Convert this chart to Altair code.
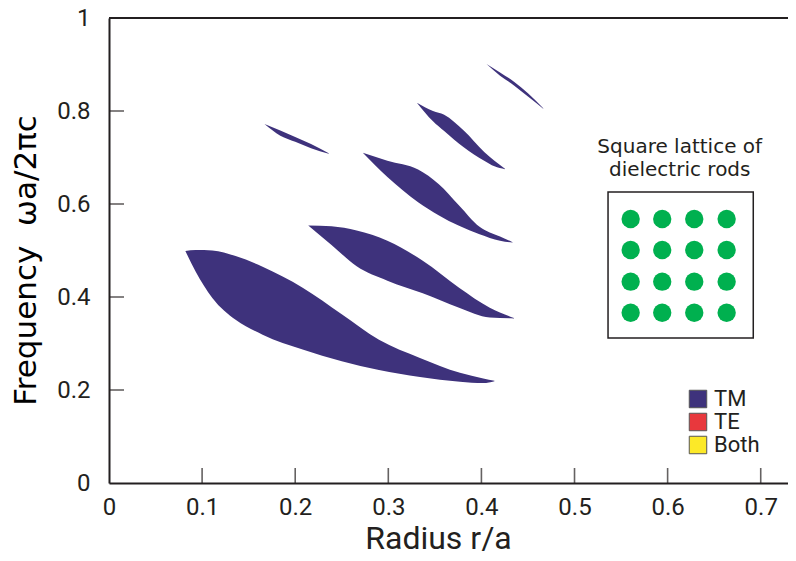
import altair as alt
import pandas as pd

# ---- data ----
# Band-gap regions (TM): x = r/a, lower and upper gap edges (omega a / 2 pi c)
g1_x  = [0.082, 0.093, 0.111, 0.136, 0.165, 0.208, 0.250, 0.290, 0.334, 0.377, 0.402, 0.414]
g1_lo = [0.499, 0.455, 0.398, 0.351, 0.319, 0.287, 0.262, 0.243, 0.228, 0.218, 0.215, 0.219]
g1_hi = [0.499, 0.501, 0.500, 0.488, 0.465, 0.420, 0.363, 0.308, 0.269, 0.237, 0.225, 0.220]

g2_x  = [0.214, 0.239, 0.266, 0.299, 0.337, 0.376, 0.409, 0.435]
g2_lo = [0.554, 0.512, 0.466, 0.435, 0.408, 0.377, 0.356, 0.354]
g2_hi = [0.554, 0.552, 0.543, 0.521, 0.478, 0.420, 0.377, 0.355]

g3_x  = [0.2726, 0.299, 0.332, 0.354, 0.376, 0.398, 0.420, 0.4335]
g3_lo = [0.710, 0.658, 0.604, 0.576, 0.553, 0.535, 0.521, 0.517]
g3_hi = [0.710, 0.693, 0.674, 0.643, 0.597, 0.551, 0.530, 0.518]

g4_x  = [0.167, 0.184, 0.200, 0.217, 0.236]
g4_lo = [0.772, 0.747, 0.734, 0.720, 0.708]
g4_hi = [0.772, 0.758, 0.744, 0.729, 0.709]

g5_x  = [0.3307, 0.348, 0.360, 0.381, 0.403, 0.414, 0.4253]
g5_lo = [0.818, 0.778, 0.757, 0.722, 0.693, 0.681, 0.675]
g5_hi = [0.818, 0.800, 0.792, 0.758, 0.712, 0.693, 0.676]

g6_x  = [0.4055, 0.420, 0.435, 0.450, 0.4664]
g6_lo = [0.901, 0.876, 0.855, 0.831, 0.805]
g6_hi = [0.901, 0.883, 0.863, 0.838, 0.806]

pol_names = ["TM", "TE", "Both"]
pol_colors = ["#3e327c", "#e8383d", "#fce928"]

x_tick_values = [0, 0.1, 0.2, 0.3, 0.4, 0.5, 0.6, 0.7]
y_tick_values = [0, 0.2, 0.4, 0.6, 0.8, 1]
x_inner_ticks = [0.1, 0.2, 0.3, 0.4, 0.5, 0.6, 0.7]
y_inner_ticks = [0.2, 0.4, 0.6, 0.8]

# inset: square lattice of rods (drawn in data coordinates)
lattice_x = [0.5603, 0.5942, 0.6286, 0.6634]
lattice_y = [0.5677, 0.5011, 0.4329, 0.3662]
inset_box = [0.536, 0.692, 0.312, 0.626]  # x0, x1, y0, y1
inset_title = ["Square lattice of", "dielectric rods"]
inset_title_pos = [0.613, 0.7097]

X_MAX = 0.7293
W, H = 679, 465
FRAME = "#231f20"

# ---- build tables ----
rows = []
for name, (xs, los, his) in {
    "g1": (g1_x, g1_lo, g1_hi), "g2": (g2_x, g2_lo, g2_hi),
    "g3": (g3_x, g3_lo, g3_hi), "g4": (g4_x, g4_lo, g4_hi),
    "g5": (g5_x, g5_lo, g5_hi), "g6": (g6_x, g6_lo, g6_hi)}.items():
    for xv, lo, hi in zip(xs, los, his):
        rows.append({"x": xv, "lo": lo, "hi": hi, "gap": name, "pol": "TM"})
gaps = pd.DataFrame(rows)

xsc = alt.Scale(domain=[0, X_MAX], nice=False, zero=False)
ysc = alt.Scale(domain=[0, 1], nice=False, zero=False)

x_axis = alt.Axis(values=x_tick_values, format="~g", ticks=False, tickSize=0,
                  grid=False, domainColor=FRAME, domainWidth=2, labelFlush=False,
                  labelFont="Roboto", labelFontSize=24, labelColor="#231f20",
                  labelPadding=12, labelBaseline="top",
                  title="Radius r/a", titleFont="Roboto", titleFontSize=32,
                  titleFontWeight="normal", titleColor="#231f20",
                  titleX=329, titleY=65, titleBaseline="alphabetic", titleAlign="center")
y_axis = alt.Axis(values=y_tick_values, format="~g", ticks=False, tickSize=0,
                  grid=False, domainColor=FRAME, domainWidth=2, labelFlush=False,
                  labelFont="Roboto", labelFontSize=24, labelColor="#231f20",
                  labelPadding=19,
                  title="Frequency\u00a0\u00a0ωa/2πc", titleFont="DejaVu Sans",
                  titleFontSize=31, titleFontWeight="normal", titleColor="#000000",
                  titleX=-74, titleY=242, titleBaseline="alphabetic",
                  titleAlign="center", titleAngle=270)


def X(field):
    return alt.X(field, scale=xsc, axis=x_axis)


def Y(field):
    return alt.Y(field, scale=ysc, axis=y_axis)


areas = alt.Chart(gaps).mark_area(interpolate="monotone", opacity=1).encode(
    x=X("x:Q"),
    y=Y("lo:Q"),
    y2="hi:Q",
    detail="gap:N",
    color=alt.Color("pol:N", scale=alt.Scale(domain=pol_names, range=pol_colors),
                    legend=alt.Legend(orient="none", legendX=578, legendY=370,
                                      title=None, symbolType="square", symbolSize=306,
                                      symbolStrokeColor="#555555", symbolStrokeWidth=1,
                                      symbolOpacity=1,
                                      labelFont="Roboto", labelFontSize=22,
                                      labelColor="#231f20", labelOffset=5,
                                      rowPadding=1, padding=0)),
)

top_line = alt.Chart(pd.DataFrame({"y": [1]})).mark_rule(
    color=FRAME, strokeWidth=2).encode(y=Y("y:Q"))

xt = alt.Chart(pd.DataFrame({"x": x_inner_ticks})).mark_tick(
    orient="vertical", color=FRAME, size=15, thickness=1.6).encode(
    x=X("x:Q"), y=alt.value(H - 7.5))

yt = alt.Chart(pd.DataFrame({"y": y_inner_ticks})).mark_tick(
    orient="horizontal", color=FRAME, size=15, thickness=1.6).encode(
    y=Y("y:Q"), x=alt.value(7.5))

box = alt.Chart(pd.DataFrame({"x0": [inset_box[0]], "x1": [inset_box[1]],
                              "y0": [inset_box[2]], "y1": [inset_box[3]]})).mark_rect(
    fill="white", stroke=FRAME, strokeWidth=1.5).encode(
    x=X("x0:Q"), x2="x1:Q", y=Y("y0:Q"), y2="y1:Q")

rods = pd.DataFrame([{"x": a, "y": b} for b in lattice_y for a in lattice_x])
circles = alt.Chart(rods).mark_circle(color="#00b04f", opacity=1, size=336).encode(
    x=X("x:Q"), y=Y("y:Q"))

label = alt.Chart(pd.DataFrame({"x": [inset_title_pos[0]], "y": [inset_title_pos[1]],
                                "t": ["\n".join(inset_title)]})).mark_text(
    font="DejaVu Sans", fontSize=20, color="#231f20", align="center",
    baseline="alphabetic", lineBreak="\n", lineHeight=23).encode(
    x=X("x:Q"), y=Y("y:Q"), text="t:N")

chart = alt.layer(areas, top_line, xt, yt, box, circles, label).properties(
    width=W, height=H,
    padding={"left": 101, "top": 10, "right": 0, "bottom": 68},
    autosize=alt.AutoSizeParams(type="none"),
).configure_view(stroke=None).configure(background="white")

chart.save("out.html", embed_options={"renderer": "svg", "actions": False})
